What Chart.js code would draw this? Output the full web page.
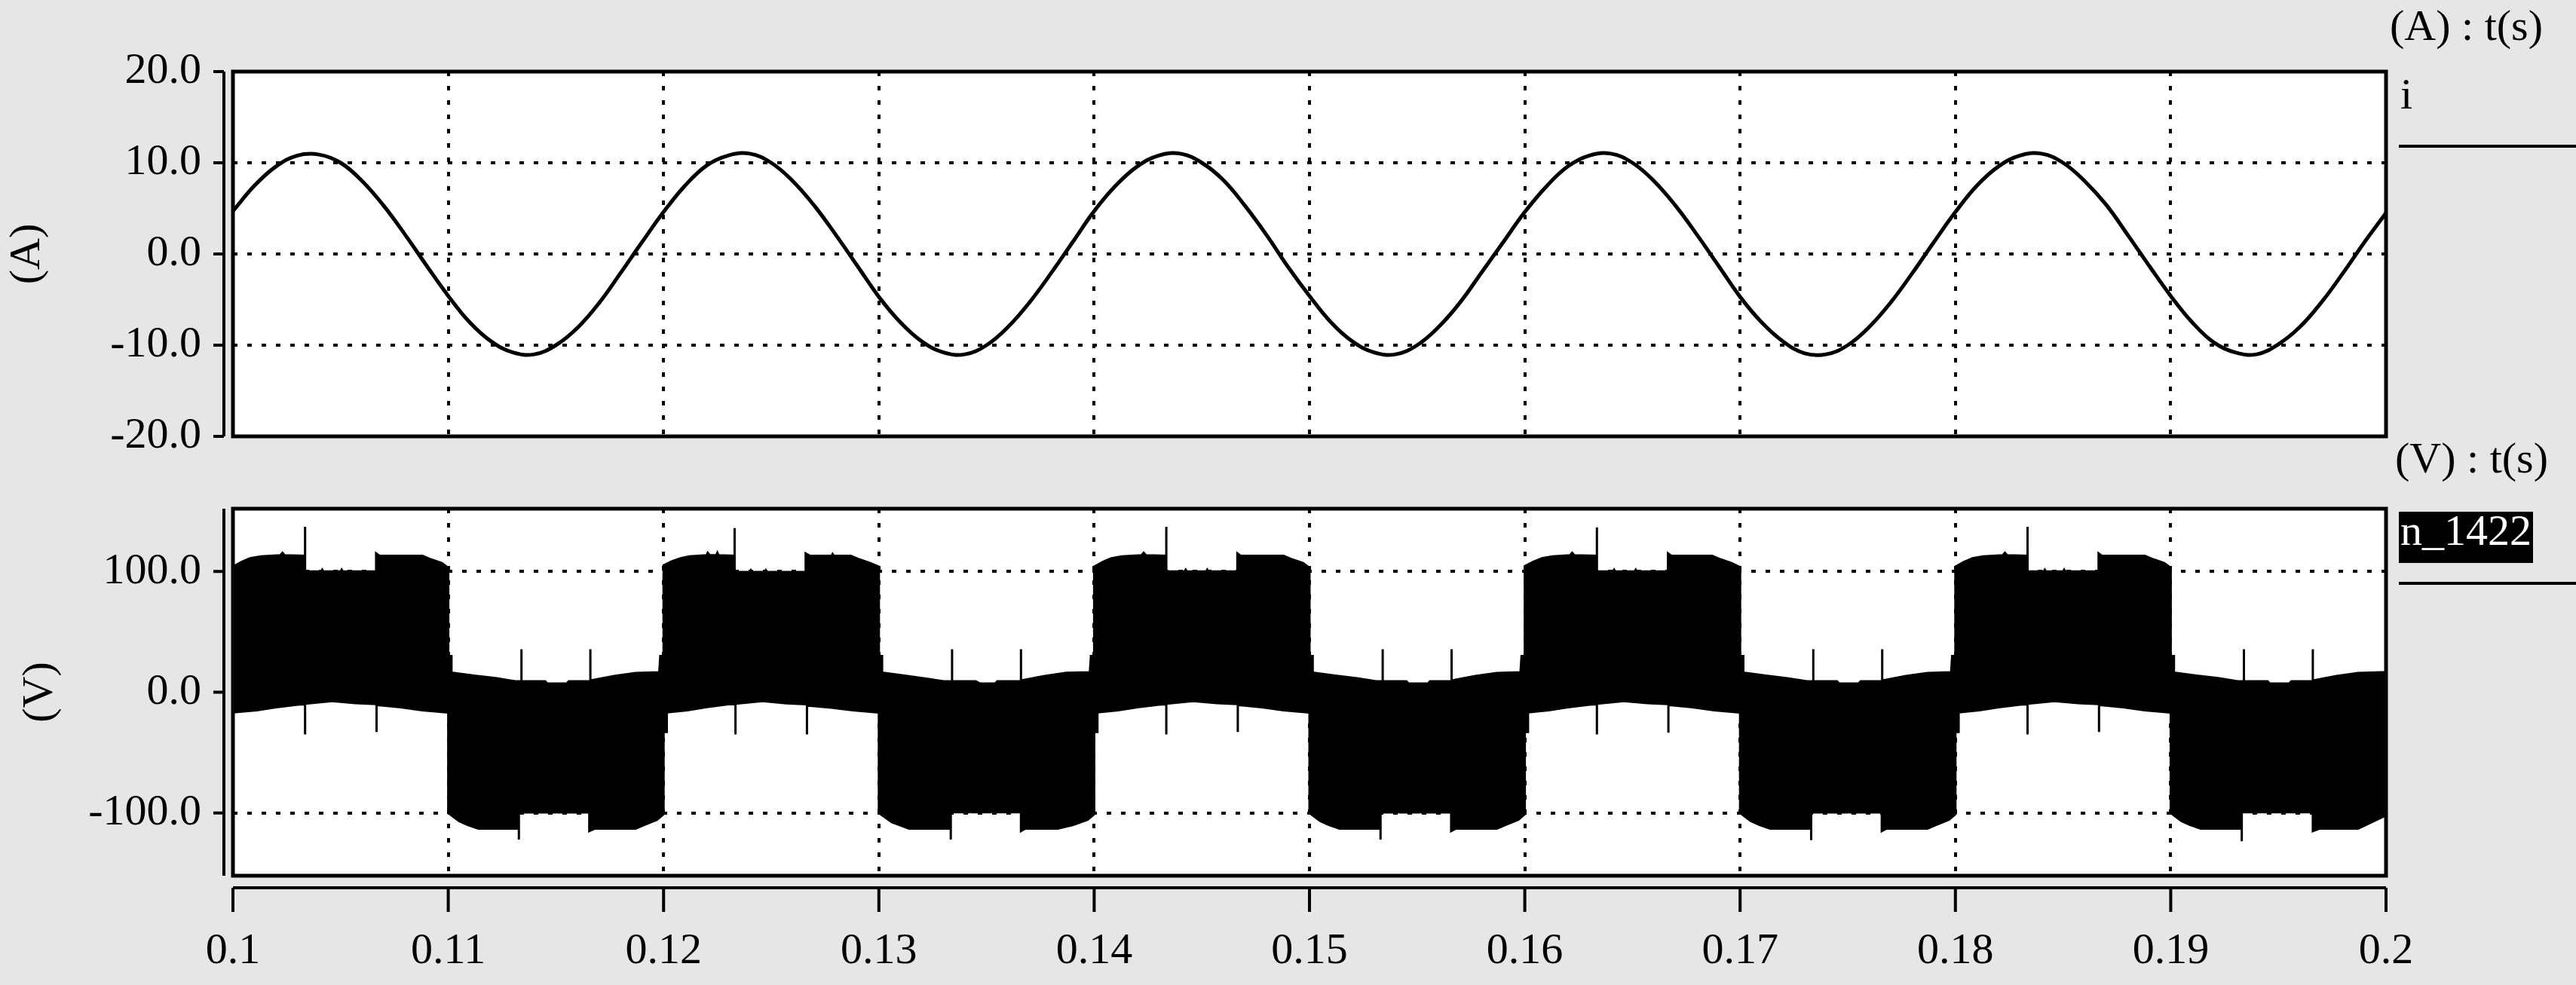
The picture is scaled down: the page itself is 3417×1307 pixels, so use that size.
<!DOCTYPE html>
<html>
<head>
<meta charset="utf-8">
<script src="https://cdn.jsdelivr.net/npm/chart.js@4.4.1/dist/chart.umd.min.js"></script>
<style>
  html, body { margin: 0; padding: 0; }
  body { width: 3417px; height: 1307px; background: #e6e6e6; position: relative; overflow: hidden;
         font-family: "Liberation Serif", "Times New Roman", serif; }
  canvas { position: absolute; left: 0; }
  .lbl { position: absolute; font-size: 58px; line-height: 58px; color: #000; white-space: nowrap; }
  .rule { position: absolute; height: 4px; background: #000; }
  .tag { position: absolute; background: #000; color: #fff; font-size: 58px; line-height: 50px;
         height: 68px; width: 176px; padding-left: 2px; white-space: nowrap; }
</style>
</head>
<body>
<canvas id="cTop" width="3417" height="640" style="top:0"></canvas>
<canvas id="cBottom" width="3417" height="667" style="top:640px"></canvas>

<div class="lbl" style="left:3170px; top:5px">(A) : t(s)</div>
<div class="lbl" style="left:3184px; top:96px">i</div>
<div class="rule" style="left:3182px; top:192px; width:235px"></div>
<div class="lbl" style="left:3177px; top:579px">(V) : t(s)</div>
<div class="tag" style="left:3182px; top:679px">n_1422</div>
<div class="rule" style="left:3182px; top:772px; width:235px"></div>

<script>
// time axis (s)
var timeTicks = [0.1, 0.11, 0.12, 0.13, 0.14, 0.15, 0.16, 0.17, 0.18, 0.19, 0.2];
var currentTicks = [-20, -10, 0, 10, 20];
var voltageTicks = [-100, 0, 100];

// current i (A), sampled every 1 ms from 0.100 s to 0.200 s
var currentValues = [
    4.7, 7.5, 9.6, 10.8, 10.9, 10.0, 8.0, 5.3, 2.1, -1.3,
    -4.6, -7.5, -9.6, -10.8, -11.0, -10.0, -8.1, -5.4, -2.1, 1.3,
    4.6, 7.5, 9.7, 10.8, 11.0, 10.0, 8.0, 5.3, 2.1, -1.3,
    -4.7, -7.5, -9.6, -10.8, -11.0, -10.0, -8.0, -5.3, -2.1, 1.3,
    4.7, 7.5, 9.6, 10.8, 11.0, 10.0, 8.1, 5.3, 2.1, -1.4,
    -4.6, -7.5, -9.6, -10.8, -11.0, -10.0, -8.0, -5.3, -2.0, 1.3,
    4.6, 7.4, 9.6, 10.8, 11.0, 10.0, 8.0, 5.3, 2.1, -1.3,
    -4.7, -7.5, -9.6, -10.9, -11.0, -10.0, -8.0, -5.3, -2.1, 1.3,
    4.6, 7.5, 9.6, 10.8, 11.0, 10.0, 8.0, 5.4, 2.1, -1.3,
    -4.6, -7.5, -9.7, -10.8, -11.0, -9.9, -8.0, -5.3, -2.1, 1.3,
    4.5
];
var currentTimes = currentValues.map(function(v, k) { return +(0.1 + k * 0.001).toFixed(3); });

// n_1422 (V): upper edge of the PWM band, [t, v]
var voltageUpper = [
    [0.10000,104],[0.10040,108],[0.10080,111],[0.10130,112.5],[0.10220,113.5],[0.10230,115.5],[0.10240,113.5],
    [0.10335,113],[0.10335,137],[0.10335,100],[0.10410,100],[0.10415,101.5],[0.10420,100],[0.10500,100],
    [0.10505,101.5],[0.10510,100],[0.10665,100],[0.10665,115],[0.10680,113],[0.10880,113],[0.10920,110],
    [0.10970,107],[0.11000,103],[0.11000,30],[0.11015,30],[0.11015,16.3],[0.11120,13.8],[0.11220,11.7],
    [0.11310,9],[0.11340,9],[0.11340,35.6],[0.11340,9],[0.11450,9],[0.11460,7.2],[0.11550,7.2],[0.11560,9],
    [0.11660,9],[0.11660,35.6],[0.11660,9.7],[0.11770,13.4],[0.11870,15.9],[0.11980,16.5],[0.11985,30],[0.12000,30],

    [0.12000,105],[0.12040,108.5],[0.12080,111],[0.12120,112.5],[0.12200,113.5],[0.12205,115.5],[0.12215,113.5],
    [0.12245,113.5],[0.12250,115.5],[0.12255,113.5],[0.12330,113],[0.12330,136],[0.12330,99.5],[0.12400,99.5],
    [0.12405,101],[0.12410,99.5],[0.12470,99.5],[0.12475,101],[0.12480,99.5],[0.12660,99.5],[0.12660,115],
    [0.12680,113],[0.12780,113],[0.12785,114.5],[0.12790,113],[0.12870,113],[0.12910,110],[0.12960,107],
    [0.13000,104],[0.13000,30],[0.13015,30],[0.13015,16.3],[0.13120,13.8],[0.13220,11.3],[0.13300,9],
    [0.13340,9],[0.13340,35.6],[0.13340,9],[0.13450,9],[0.13470,7.2],[0.13540,7.2],[0.13550,9],[0.13660,9],
    [0.13660,35.6],[0.13660,9.7],[0.13770,13.4],[0.13870,16],[0.13980,16.5],[0.13985,30],[0.14000,30],

    [0.14000,104],[0.14040,108],[0.14080,111],[0.14130,112.5],[0.14220,113.5],[0.14230,115.5],[0.14240,113.5],
    [0.14335,113],[0.14335,137],[0.14335,100],[0.14420,100],[0.14425,101.5],[0.14430,100],[0.14520,100],
    [0.14525,101.5],[0.14530,100],[0.14665,100],[0.14665,115],[0.14680,113],[0.14880,113],[0.14920,110],
    [0.14970,107],[0.15000,103],[0.15000,30],[0.15015,30],[0.15015,16.3],[0.15120,13.8],[0.15220,11.5],
    [0.15310,9],[0.15340,9],[0.15340,35.6],[0.15340,9],[0.15450,9],[0.15460,7.2],[0.15550,7.2],[0.15560,9],
    [0.15660,9],[0.15660,35.6],[0.15660,9.7],[0.15770,13.4],[0.15870,15.9],[0.15980,16.5],[0.15985,30],[0.16000,30],

    [0.16000,104.5],[0.16040,108],[0.16080,111],[0.16130,112.5],[0.16210,113.5],[0.16220,115.5],[0.16230,113.5],
    [0.16335,113],[0.16335,136.5],[0.16335,100],[0.16410,100],[0.16415,101.5],[0.16420,100],[0.16510,100],
    [0.16515,101.5],[0.16520,100],[0.16665,100],[0.16665,115],[0.16680,113],[0.16870,113],[0.16910,110],
    [0.16960,107],[0.17000,103.5],[0.17000,30],[0.17015,30],[0.17015,16.3],[0.17120,13.8],[0.17220,11.5],
    [0.17310,9],[0.17340,9],[0.17340,35.6],[0.17340,9],[0.17450,9],[0.17460,7.2],[0.17550,7.2],[0.17560,9],
    [0.17660,9],[0.17660,35.6],[0.17660,9.7],[0.17770,13.4],[0.17870,15.9],[0.17980,16.5],[0.17985,30],[0.18000,30],

    [0.18000,104],[0.18040,108],[0.18080,111],[0.18130,112.5],[0.18220,113.5],[0.18230,115.5],[0.18240,113.5],
    [0.18335,113],[0.18335,137],[0.18335,100],[0.18410,100],[0.18415,101.5],[0.18420,100],[0.18500,100],
    [0.18505,101.5],[0.18510,100],[0.18665,100],[0.18665,115],[0.18680,113],[0.18880,113],[0.18920,110],
    [0.18970,107],[0.19000,103],[0.19000,30],[0.19015,30],[0.19015,16.3],[0.19120,13.8],[0.19220,11.7],
    [0.19310,9],[0.19340,9],[0.19340,35.6],[0.19340,9],[0.19450,9],[0.19460,7.2],[0.19550,7.2],[0.19560,9],
    [0.19660,9],[0.19660,35.6],[0.19660,9.7],[0.19770,13.4],[0.19870,15.9],[0.19980,16.5],[0.20000,16.5]
];

// n_1422 (V): lower edge of the PWM band, [t, v]
var voltageLower = [
    [0.10000,-16.7],[0.10110,-15],[0.10200,-12.5],[0.10300,-10.3],[0.10335,-10],[0.10335,-35],[0.10335,-9.5],
    [0.10460,-7.4],[0.10570,-9],[0.10667,-9.8],[0.10667,-33],[0.10667,-10.5],[0.10780,-12.5],[0.10880,-15],
    [0.10990,-16.7],[0.11000,-16.7],[0.11000,-100],[0.11050,-106.7],[0.11090,-110],[0.11140,-113],
    [0.11328,-113],[0.11328,-122],[0.11328,-99.6],[0.11400,-99.6],[0.11405,-98],[0.11410,-99.6],
    [0.11500,-99.6],[0.11505,-98],[0.11510,-99.6],[0.11655,-99.6],[0.11655,-115],[0.11680,-113],
    [0.11870,-113],[0.11910,-110],[0.11970,-105.6],[0.12000,-101],[0.12000,-33],[0.12015,-33],[0.12015,-16.7],

    [0.12110,-15],[0.12200,-12.3],[0.12300,-10],[0.12334,-9.8],[0.12334,-35],[0.12334,-9.5],[0.12460,-7.4],
    [0.12570,-9.2],[0.12666,-10],[0.12666,-35],[0.12666,-11],[0.12780,-12.8],[0.12880,-15],[0.12990,-16.7],
    [0.13000,-16.7],[0.13000,-100],[0.13060,-107.7],[0.13140,-113],[0.13334,-113],[0.13334,-122],
    [0.13334,-99.4],[0.13420,-99.4],[0.13425,-98],[0.13430,-99.4],[0.13520,-99.4],[0.13525,-98],
    [0.13530,-99.4],[0.13660,-99.4],[0.13660,-115],[0.13680,-113],[0.13830,-113],[0.13900,-110],
    [0.13970,-105.6],[0.14000,-101],[0.14000,-33],[0.14015,-33],[0.14015,-16.7],

    [0.14110,-15],[0.14200,-12.5],[0.14300,-10.3],[0.14335,-10],[0.14335,-35],[0.14335,-9.5],[0.14460,-7.4],
    [0.14570,-9],[0.14667,-9.8],[0.14667,-33],[0.14667,-10.5],[0.14780,-12.5],[0.14880,-15],[0.14990,-16.7],
    [0.15000,-16.7],[0.15000,-100],[0.15050,-106.7],[0.15090,-110],[0.15140,-113],[0.15330,-113],
    [0.15330,-122],[0.15330,-99.6],[0.15410,-99.6],[0.15415,-98],[0.15420,-99.6],[0.15510,-99.6],
    [0.15515,-98],[0.15520,-99.6],[0.15658,-99.6],[0.15658,-115],[0.15680,-113],[0.15870,-113],
    [0.15910,-110],[0.15970,-105.6],[0.16000,-101],[0.16000,-33],[0.16015,-33],[0.16015,-16.7],

    [0.16110,-15],[0.16200,-12.5],[0.16300,-10.3],[0.16335,-10],[0.16335,-35],[0.16335,-9.5],[0.16460,-7.4],
    [0.16570,-9],[0.16667,-9.8],[0.16667,-33.5],[0.16667,-10.5],[0.16780,-12.5],[0.16880,-15],[0.16990,-16.7],
    [0.17000,-16.7],[0.17000,-100],[0.17050,-106.7],[0.17090,-110],[0.17140,-113],[0.17330,-113],
    [0.17330,-122.5],[0.17330,-99.6],[0.17400,-99.6],[0.17405,-98],[0.17410,-99.6],[0.17500,-99.6],
    [0.17505,-98],[0.17510,-99.6],[0.17658,-99.6],[0.17658,-115],[0.17680,-113],[0.17870,-113],
    [0.17910,-110],[0.17970,-105.6],[0.18000,-101],[0.18000,-33],[0.18015,-33],[0.18015,-16.7],

    [0.18110,-15],[0.18200,-12.5],[0.18300,-10.3],[0.18335,-10],[0.18335,-35],[0.18335,-9.5],[0.18460,-7.4],
    [0.18570,-9],[0.18667,-9.8],[0.18667,-33],[0.18667,-10.5],[0.18780,-12.5],[0.18880,-15],[0.18990,-16.7],
    [0.19000,-16.7],[0.19000,-100],[0.19050,-106.7],[0.19090,-110],[0.19140,-113],[0.19330,-113],
    [0.19330,-123.5],[0.19330,-99.4],[0.19420,-99.4],[0.19425,-98],[0.19430,-99.4],[0.19520,-99.4],
    [0.19525,-98],[0.19530,-99.4],[0.19660,-99.4],[0.19660,-115],[0.19690,-113],[0.19870,-113],
    [0.19930,-108],[0.20000,-102]
];

var SERIF = '"Liberation Serif", "Times New Roman", serif';
Chart.defaults.font.family = SERIF;
Chart.defaults.color = '#000';

function toPoints(pairs) {
    return pairs.map(function(p) { return {x: p[0], y: p[1]}; });
}

function edgeless(ctx) {
    var n = ctx.scale.ticks.length;
    return (ctx.index === 0 || ctx.index === n - 1) ? 'rgba(0,0,0,0)' : '#000';
}

// white plot box, heavy frame and the detached axes of the scope window
var scopeFrame = {
    id: 'scopeFrame',
    beforeDraw: function(chart) {
        var a = chart.chartArea, ctx = chart.ctx;
        ctx.save();
        ctx.fillStyle = '#fff';
        ctx.fillRect(a.left, a.top, a.right - a.left, a.bottom - a.top);
        ctx.restore();
    },
    afterDraw: function(chart, args, opts) {
        var a = chart.chartArea, ctx = chart.ctx;
        ctx.save();
        ctx.strokeStyle = '#000';
        ctx.lineWidth = 5;
        ctx.strokeRect(a.left, a.top, a.right - a.left, a.bottom - a.top);

        var y = chart.scales.y, ax = a.left - 12;
        ctx.lineWidth = 4;
        ctx.beginPath();
        ctx.moveTo(ax, a.top);
        ctx.lineTo(ax, a.bottom);
        y.ticks.forEach(function(t) {
            var p = y.getPixelForValue(t.value);
            ctx.moveTo(ax - 14, p);
            ctx.lineTo(ax, p);
        });
        ctx.stroke();

        if (opts.xAxis) {
            var x = chart.scales.x, ay = a.bottom + 16;
            ctx.beginPath();
            ctx.moveTo(a.left, ay);
            ctx.lineTo(a.right, ay);
            x.ticks.forEach(function(t) {
                var p = x.getPixelForValue(t.value);
                ctx.moveTo(p, ay);
                ctx.lineTo(p, ay + 32);
            });
            ctx.stroke();
        }
        ctx.restore();
    }
};

// label gaps are made with invisible tick marks so they do not shrink the plot box
function timeScale(showLabels, height) {
    return {
        type: 'linear',
        min: timeTicks[0],
        max: timeTicks[timeTicks.length - 1],
        afterBuildTicks: function(s) { s.ticks = timeTicks.map(function(v) { return {value: v}; }); },
        afterFit: function(s) { s.height = height; },
        ticks: {
            display: showLabels,
            padding: 0,
            autoSkip: false,
            maxRotation: 0,
            font: {size: 58},
            callback: function(v) { return String(+Number(v).toFixed(2)); }
        },
        grid: {drawTicks: true, tickLength: 66, tickColor: 'rgba(0,0,0,0)', lineWidth: 4, color: edgeless},
        border: {display: false, dash: [6, 13]}
    };
}

function valueScale(min, max, ticks, title, titlePad, gridColor) {
    return {
        min: min,
        max: max,
        afterBuildTicks: function(s) { s.ticks = ticks.map(function(v) { return {value: v}; }); },
        afterFit: function(s) { s.width = 309; },
        ticks: {
            padding: 0,
            font: {size: 58},
            callback: function(v) { return Number(v).toFixed(1); }
        },
        title: {display: true, text: title, font: {size: 58}, padding: {top: titlePad, bottom: 0}},
        grid: {drawTicks: true, tickLength: 42, tickColor: 'rgba(0,0,0,0)', lineWidth: 4, color: gridColor},
        border: {display: false, dash: [6, 13]}
    };
}

new Chart(document.getElementById('cTop'), {
    type: 'line',
    data: {
        labels: currentTimes,
        datasets: [{
            label: 'i',
            data: currentValues,
            borderColor: '#000',
            borderWidth: 5,
            pointRadius: 0,
            tension: 0.4,
            fill: false
        }]
    },
    options: {
        responsive: false,
        animation: false,
        devicePixelRatio: 1,
        layout: {padding: {top: 95, right: 252, left: 0, bottom: 0}},
        plugins: {legend: {display: false}, tooltip: {enabled: false}, scopeFrame: {xAxis: false}},
        scales: {
            x: timeScale(false, 61),
            y: valueScale(-20, 20, currentTicks, '(A)', 2, edgeless)
        }
    },
    plugins: [scopeFrame]
});

new Chart(document.getElementById('cBottom'), {
    type: 'line',
    data: {
        datasets: [{
            label: 'n_1422',
            data: toPoints(voltageUpper),
            borderColor: '#000',
            backgroundColor: '#000',
            borderWidth: 3,
            pointRadius: 0,
            tension: 0,
            fill: {value: -5}
        }, {
            label: 'n_1422 low',
            data: toPoints(voltageLower),
            borderColor: '#000',
            backgroundColor: '#000',
            borderWidth: 3,
            pointRadius: 0,
            tension: 0,
            fill: {value: 5}
        }]
    },
    options: {
        responsive: false,
        animation: false,
        devicePixelRatio: 1,
        parsing: false,
        layout: {padding: {top: 35, right: 252, left: 0, bottom: 0}},
        plugins: {legend: {display: false}, tooltip: {enabled: false}, scopeFrame: {xAxis: true}},
        scales: {
            x: timeScale(true, 145),
            y: valueScale(-152, 152, voltageTicks, '(V)', 19, '#000')
        }
    },
    plugins: [scopeFrame]
});
</script>
</body>
</html>
